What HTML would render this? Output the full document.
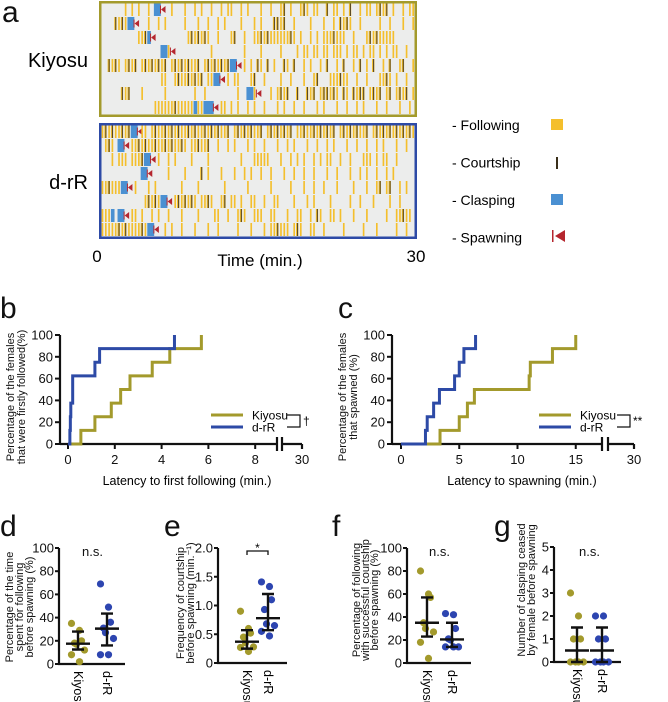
<!DOCTYPE html>
<html><head><meta charset="utf-8"><style>
html,body{margin:0;padding:0;background:#fff;width:668px;height:702px;overflow:hidden}
svg{display:block;font-family:"Liberation Sans",sans-serif}
.tk{font-family:"Liberation Sans Narrow","Liberation Sans",sans-serif;font-size:13px;fill:#111}
.at{font-size:11px;fill:#111}
.pl{font-size:30px;fill:#111}
</style></head><body>
<svg id="fig" width="668" height="702" viewBox="0 0 668 702" xmlns="http://www.w3.org/2000/svg">
<g id="pa"></g>
<g id="pb"></g>
<g id="pc"></g>
<g id="pd"></g>
<g id="pe"></g>
<g id="pf"></g>
<g id="pg"></g>
</svg>
<script>
// ---------- data ----------
const kiyosuRaster = [
".......y.y.y..y.bbs..y...y..y.y..y..y.yy..y.y...y..y..yk.y..yky.yy..k.yy.y.k..y.yy.ykyk.y..y.yy",
"....kykybbs...y..y.y.....y...y..y..y.y....y...y.y...kkyk..y....y...y..y.kyky..y.....y..y...y..y.",
"...........yykbs..........ykykyky..y...yk..y..yykykyyyyyyky.y..y.y.yyykyyy..y...ykykyyyyy.......",
"..................bbys...........y.........y....y.....y....y.yy.yy.yy.yyy.y.yy.y.yy.y.y.yy..y....",
"..kyky.ykyk.ykykykyk.ykykykyyk.ykykykykbbs.y.y.ky.k.y..ky.k..y.y..y.k..y.k..y.k.y.k..y.k..yk..y.",
"..................yy..ykyykykyk.yybbs.y.yy...yk..y....y..y...y..yk...yyykyy..y..y...yyky.y..y...",
"......kyk...y......y........y..y.........y..bbys...y.ykyk..k..kyk.ykkyky.ky.kykk.ykyk.yk.ykyk.y.",
"................yyyyyykyyyyybyybbbs.yy.y.y..y.y..y...y.y..y..y...y.y...y..y..y.y...y..y...y..y.."];
const drRRaster = [
"ykykyykykbbsyy.ykyykykykyykykyykykykyyk.ykykykyyk.ykykykyk.yykyykykykyk.ykykykyyk.ykykykykykyky",
".yky.bbs.yykykyykyykykyyky.yykyyk..y..y.y...y.y..y...y..y.y...y..y..y.y...y..y..y..y.y...y..y..",
"...y.yyy.yyykbbs.y..y.y....y....y.........y...yyyyy...y..y.y.y..y.y.yy..y..y...yyy.y.yy..y.....",
"............bbs.....y....y....k.y...y...y..y.y..y..y...y..y..y..y...y..y...y..y.y..y..y.y......",
"yykyyybbs.y...y.y.......y....y.......y......y......y.....y...y..y..y...y....y...y..yk.yk..y.y...",
".............ykykybbs.ykykyky.yyky..yk.yy.y..yy..y..yy....y...y.y....y.....y..y...y....y..y...",
"yyyb.bbs.yy.y..y.y..y...y....y....yy..y..yky..yyy..yy...y..yy..y.ky..yy.y...y...y.....y..yykyy",
"yyyyykykyyyykybbs..y.y..y...y...y..y.....y...y...y.yykyyy.yky..yy..y.....y.....y...y.....y..y.."];

const bKiyosuTimes = [0.55,1.15,1.85,2.25,2.65,3.6,4.35,5.7];
const bDrRTimes = [0.08,0.1,0.12,0.2,0.2,1.15,1.35,4.55];
const bXTicks = [0,2,4,6,8];
const cKiyosuTimes = [3.35,5.0,5.7,6.3,11.0,11.1,13.0,15.0];
const cDrRTimes = [2.1,2.25,2.8,3.3,4.6,5.0,5.4,6.4];
const cXTicks = [0,5,10,15];
const survYTicks = [0,20,40,60,80,100];

const dKiyosu = [35,29,20,18,17,12,8,2];
const dDrR = [69,49,36,31,27,22,8,8];
const dStats = [[17.5,12.5,28],[30.5,16,43.5]];
const eKiyosu = [0.9,0.6,0.52,0.45,0.35,0.28,0.27,0.2];
const eDrR = [1.41,1.33,1.1,0.93,0.68,0.65,0.55,0.47];
const eStats = [[0.37,0.25,0.57],[0.78,0.57,1.2]];
const fKiyosu = [80,60,57,35,30,27,18,4];
const fDrR = [43,42,30,21,20,14,14,14];
const fStats = [[35,23,57],[20.5,14,35]];
const gKiyosu = [3,2,1,1,0,0,0,0];
const gDrR = [2,2,1,1,0,0,0,0];
const gStats = [[0.5,0,1.5],[0.5,0,1.5]];

const NS='http://www.w3.org/2000/svg';
function mk(parent,tag,attrs,text){const e=document.createElementNS(NS,tag);for(const k in attrs)e.setAttribute(k,attrs[k]);if(text!==undefined)e.textContent=text;parent.appendChild(e);return e;}
const OL='#a39a2c', BL='#2d4aa6';

// ---------- panel a ----------
const pa=document.getElementById('pa');
let t=mk(pa,'text',{x:2,y:22,class:'pl','font-size':'24'},'a');


function raster(rows,y0,color,name){
  const x0=99,w=318,h=116;
  const g=mk(pa,'g',{});
  
  
  mk(g,'rect',{x:x0,y:y0,width:w,height:h,fill:'#ecedec'});
  const rh=(h-4)/rows.length;
  rows.forEach((r,ri)=>{
    const bw=(w-4)/95, ry=y0+2+ri*rh;
    for(let i=0;i<r.length;i++){
      const c=r[i], bx=x0+2+i*bw;
      if(c==='y'){const el=mk(g,'rect',{x:bx+bw*0.2,y:ry,width:bw*0.5,height:rh-1,fill:'#f4bf2c'});}
      else if(c==='k'){mk(g,'rect',{x:bx,y:ry,width:bw*0.7,height:rh-1,fill:'#f4bf2c'});const el=mk(g,'rect',{x:bx+bw*0.3,y:ry,width:1.1,height:rh-1,fill:'#5a4a26'});}
      else if(c==='b'){const el=mk(g,'rect',{x:bx,y:ry,width:bw+0.3,height:rh-1,fill:'#4a90d2'});}
      else if(c==='s'){const cy=ry+rh/2-0.5;const el=mk(g,'path',{d:`M${bx+0.5} ${cy}L${bx+5} ${cy-3.5}L${bx+5} ${cy+3.5}Z`,fill:'#b5262e'});
        mk(g,'rect',{x:bx-0.5,y:cy-4,width:1,height:8,fill:'#b5262e'});}
    }
  });
  mk(g,'rect',{x:x0+1.25,y:y0+1.25,width:w-2.5,height:h-2.5,fill:'none',stroke:color,'stroke-width':2.5});
}
raster(kiyosuRaster,1,OL,'kiyosu-raster');
raster(drRRaster,123,BL,'drr-raster');
t=mk(pa,'text',{x:88,y:67,'font-size':'20','text-anchor':'end'},'Kiyosu');

t=mk(pa,'text',{x:88,y:189,'font-size':'20','text-anchor':'end'},'d-rR');

t=mk(pa,'text',{x:97,y:262,'font-size':'17','text-anchor':'middle'},'0');

t=mk(pa,'text',{x:416,y:262,'font-size':'17','text-anchor':'middle'},'30');

t=mk(pa,'text',{x:260,y:266,'font-size':'17','text-anchor':'middle'},'Time (min.)');

// legend
const lg=mk(pa,'g',{});

const legItems=['- Following','- Courtship','- Clasping','- Spawning'];
legItems.forEach((s,i)=>{
  const y=130+i*37.5;
  const tx=mk(lg,'text',{x:452,y:y,'font-size':'14'},s);
  
});
mk(lg,'rect',{x:551,y:119,width:12,height:11,fill:'#f4bf2c'});
mk(lg,'rect',{x:556,y:157,width:2,height:12,fill:'#3a2f1a'});
mk(lg,'rect',{x:551,y:194,width:12,height:11,fill:'#4a90d2'});
mk(lg,'rect',{x:552,y:230,width:1.5,height:12,fill:'#b5262e'});
mk(lg,'path',{d:'M555 236L565 230L565 242Z',fill:'#b5262e'});

// ---------- survival panels ----------
function survival(gid,label,lx,ax,x0,pxPerMin,brk1,brk2,x30,xTicks,kT,dT,title,xtitle,xtc,leg,bracketX,sig){
  const g=document.getElementById(gid);
  const y0=444,y100=335;
  const Y=v=>y0-(v/100)*(y0-y100);
  const X=v=>x0+v*pxPerMin;
  let e=mk(g,'text',{x:lx,y:318,class:'pl','font-size':'27'},label);
  const ya=mk(g,'path',{d:`M${ax} ${y100}V${y0}`,stroke:'#111','stroke-width':2.2,fill:'none'});
  
  const xa=mk(g,'path',{d:`M${ax} ${y0}H${brk1}M${brk2} ${y0}H${x30}M${brk1} ${y0-7}V${y0+7}M${brk2} ${y0-7}V${y0+7}M${x30} ${y0}V${y0+5}`,stroke:'#111','stroke-width':2.2,fill:'none'});
  
  survYTicks.forEach(v=>{
    mk(g,'path',{d:`M${ax-5} ${Y(v)}H${ax}`,stroke:'#111','stroke-width':2});
    const tt=mk(g,'text',{x:ax-7,y:Y(v)+4.5,class:'tk','text-anchor':'end'},v);
    
  });
  xTicks.forEach(v=>{
    mk(g,'path',{d:`M${X(v)} ${y0}V${y0+5}`,stroke:'#111','stroke-width':2});
    const tt=mk(g,'text',{x:X(v),y:y0+20,class:'tk','text-anchor':'middle'},v);
    
  });
  e=mk(g,'text',{x:x30,y:y0+20,class:'tk','text-anchor':'middle'},'30');
  e=mk(g,'text',{x:xtc,y:y0+41,'font-size':'12.5','text-anchor':'middle'},xtitle);
  const cy=397;
  e=mk(g,'text',{transform:`translate(${ax-46},${cy}) rotate(-90)`,'text-anchor':'middle',class:'at','font-size':'11.5'},title[0]);
  e=mk(g,'text',{transform:`translate(${ax-35},${cy}) rotate(-90)`,'text-anchor':'middle',class:'at','font-size':'11.5'},title[1]);
  function step(times,col,name){
    let d=`M${X(0)} ${Y(0)}`;
    times.forEach((tm,i)=>{d+=`H${X(tm)}V${Y((i+1)/times.length*100)}`;});
    const p=mk(g,'path',{d:d,stroke:col,'stroke-width':3,fill:'none'});
    
  }
  step(kT,OL,'kiyosu-curve');
  step(dT,BL,'drr-curve');
  const [l1,l2]=leg;
  mk(g,'path',{d:`M${l1} 415H${l2}`,stroke:OL,'stroke-width':3});
  mk(g,'path',{d:`M${l1} 427H${l2}`,stroke:BL,'stroke-width':3});
  e=mk(g,'text',{x:l2+9,y:419.5,'font-size':'12'},'Kiyosu');
  e=mk(g,'text',{x:l2+9,y:431.5,'font-size':'12'},'d-rR');
  mk(g,'path',{d:`M${bracketX} 415H${bracketX+13}V427H${bracketX}`,stroke:'#111','stroke-width':1.2,fill:'none'});
  e=mk(g,'text',{x:bracketX+16,y:425,'font-size':'12'},sig);
}
survival('pb','b',0,60,68,23.4,277,282,302,bXTicks,bKiyosuTimes,bDrRTimes,['Percentage of the females','that were firstly followed(%)'],'Latency to first following (min.)',187,[211,243],287,'†');
survival('pc','c',338,392,401,11.65,602,608,634,cXTicks,cKiyosuTimes,cDrRTimes,['Percentage of the females','that spawned (%)'],'Latency to spawning (min.)',522,[539,571],617,'**');

// ---------- dot plots ----------
function dots(gid,label,lx,ax,axEnd,y0,yTop,maxV,ticks,tickFmt,c1,c2,kV,dV,stats,titles,tx,tcy,sig){
  const g=document.getElementById(gid);
  const Y=v=>y0-(v/maxV)*(y0-yTop);
  let e=mk(g,'text',{x:lx,y:536,class:'pl'},label);
  e=mk(g,'path',{d:`M${ax} ${yTop}V${y0}H${axEnd}`,stroke:'#111','stroke-width':2.2,fill:'none'});
  
  ticks.forEach(v=>{
    mk(g,'path',{d:`M${ax-4} ${Y(v)}H${ax}`,stroke:'#111','stroke-width':2});
    const tt=mk(g,'text',{x:ax-5,y:Y(v)+4.5,class:'tk','text-anchor':'end'},tickFmt(v));
    
  });
  titles.forEach((s,i)=>{
    const tt=mk(g,'text',{transform:`translate(${tx[i]},${tcy}) rotate(-90)`,'text-anchor':'middle',class:'at'},s);
    
  });
  [[c1,'Kiyosu'],[c2,'d-rR']].forEach(([cx,s])=>{
    const tt=mk(g,'text',{transform:`translate(${cx-4},${y0+7}) rotate(90)`,'font-size':'12.5'},s);
    
  });
  function grp(vals,cx,col,st,name){
    vals.forEach((v,i)=>{
      const c=mk(g,'circle',{cx:cx+((i%3)-1)*5+(i%2?1.5:-1.5),cy:Y(v),r:3.6,fill:col});
      
    });
    const [m,lo,hi]=st;
    const p=mk(g,'path',{d:`M${cx} ${Y(lo)}V${Y(hi)}M${cx-6} ${Y(lo)}H${cx+6}M${cx-6} ${Y(hi)}H${cx+6}M${cx-12} ${Y(m)}H${cx+12}`,stroke:'#111','stroke-width':2.4,fill:'none'});
    
  }
  grp(kV,c1,'#a39a2c',stats[0],'kiyosu');
  grp(dV,c2,'#2d45b0',stats[1],'drr');
  if(sig==='*'){
    mk(g,'path',{d:`M${c1} 555V551H${c2}V555`,stroke:'#111','stroke-width':1.3,fill:'none'});
    e=mk(g,'text',{x:(c1+c2)/2,y:552,'font-size':'12','text-anchor':'middle'},'*');
  } else {
    e=mk(g,'text',{x:(c1+c2)/2,y:556,'font-size':'12','text-anchor':'middle',class:'tk'},'n.s.');
  }
  
}
const intFmt=v=>String(v), decFmt=v=>v.toFixed(1);
dots('pd','d',0,59,125,664,548,100,[0,20,40,60,80,100],intFmt,78,107,dKiyosu,dDrR,dStats,['Percentage of the time','spent for following','before spawning (%)'],[13,23,33],607,'ns');
dots('pe','e',164,218,287,663,548,2,[0,0.5,1.0,1.5,2.0],v=>v===0?'0':decFmt(v),247,268,eKiyosu,eDrR,eStats,['Frequency of courtship','before spawning (min.⁻¹)'],[184,194],603,'*');
dots('pf','f',332,407,471,663,548,100,[0,20,40,60,80,100],intFmt,427,452,fKiyosu,fDrR,fStats,['Percentage of following','with successful courtship','before spawning (%)'],[360,369,378],600,'ns');
dots('pg','g',494,554,621,662,547,5,[0,1,2,3,4,5],intFmt,577,602,gKiyosu,gDrR,gStats,['Number of clasping ceased','by female before spawning'],[525,535],590,'ns');
</script>
</body></html>
